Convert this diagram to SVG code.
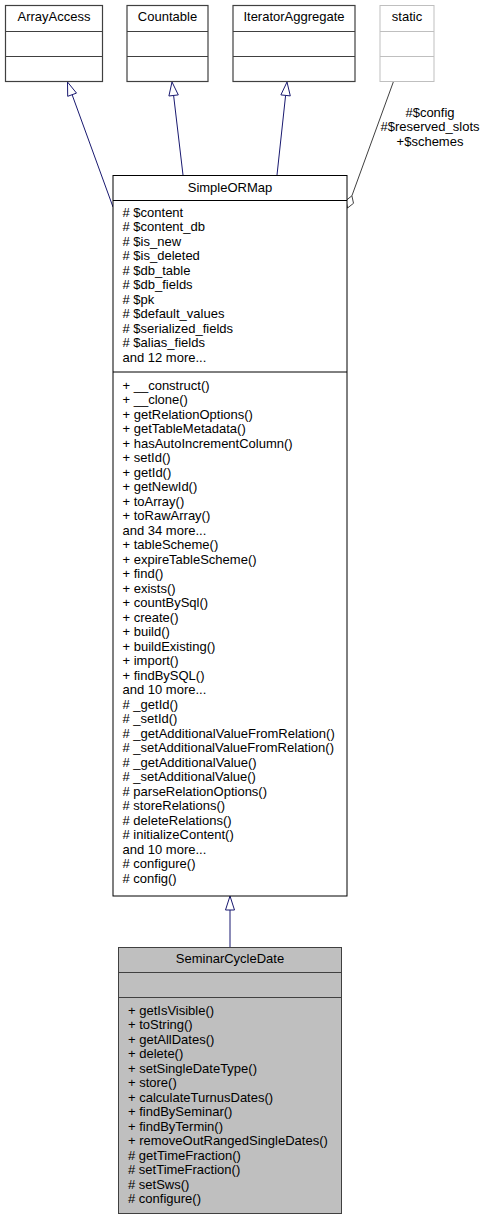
<svg xmlns="http://www.w3.org/2000/svg" width="486" height="1220" viewBox="0 0 486 1220">
<style>
text{font-family:"Liberation Sans",Arial,Helvetica,sans-serif;font-size:13px;fill:#000}
.c{text-anchor:middle}
.box{fill:#fff;stroke:#404040;stroke-width:1.2}
.main{fill:#fff;stroke:#000;stroke-width:1}
.ghost{fill:#fff;stroke:#bfbfbf;stroke-width:1}
.cur{fill:#bfbfbf;stroke:#404040;stroke-width:1}
.inh{fill:none;stroke:#191970;stroke-width:1}
.tri{fill:#fff;stroke:#191970;stroke-width:1}
.use{fill:none;stroke:#404040;stroke-width:1}
.dia{fill:#fff;stroke:#404040;stroke-width:1}
</style>
<rect width="486" height="1220" fill="#fff"/>
<g id="connectors">
<line class="inh" x1="72.1" y1="94.7" x2="113" y2="207"/>
<polygon class="tri" points="67.5,82 76.5,93.1 67.7,96.3"/>
<line class="inh" x1="173.6" y1="95.4" x2="183" y2="175"/>
<polygon class="tri" points="172,82 178.3,94.9 168.9,96"/>
<line class="inh" x1="285.6" y1="95.4" x2="277" y2="175"/>
<polygon class="tri" points="287,82 290.3,95.9 280.9,94.9"/>
<line class="use" x1="393.3" y1="82" x2="351.9" y2="195.8"/>
<polygon class="dia" points="347.5,208 345.9,200.5 351.9,195.8 353.5,203.3"/>
<text class="c" x="430" y="116.5">#$config</text>
<text class="c" x="430" y="131">#$reserved_slots</text>
<text class="c" x="430" y="145.5">+$schemes</text>
<line class="inh" x1="230" y1="910" x2="230" y2="947"/>
<polygon class="tri" points="230,896 234.5,910 225.5,910"/>
</g>
<g id="ArrayAccess">
<rect class="box" x="5.5" y="5.5" width="97" height="76"/>
<line class="box" x1="5.5" y1="31.5" x2="102.5" y2="31.5"/>
<line class="box" x1="5.5" y1="56.5" x2="102.5" y2="56.5"/>
<text class="c" x="54" y="21">ArrayAccess</text>
</g>
<g id="Countable">
<rect class="box" x="127" y="5.5" width="81" height="76"/>
<line class="box" x1="127" y1="31.5" x2="208" y2="31.5"/>
<line class="box" x1="127" y1="56.5" x2="208" y2="56.5"/>
<text class="c" x="167.5" y="21">Countable</text>
</g>
<g id="IteratorAggregate">
<rect class="box" x="233" y="5.5" width="122" height="76"/>
<line class="box" x1="233" y1="31.5" x2="355" y2="31.5"/>
<line class="box" x1="233" y1="56.5" x2="355" y2="56.5"/>
<text class="c" x="294" y="21">IteratorAggregate</text>
</g>
<g id="static">
<rect class="ghost" x="380" y="5.5" width="54" height="76"/>
<line class="ghost" x1="380" y1="31.5" x2="434" y2="31.5"/>
<line class="ghost" x1="380" y1="56.5" x2="434" y2="56.5"/>
<text class="c" x="407" y="21">static</text>
</g>
<g id="SimpleORMap">
<rect class="main" x="113" y="175.5" width="234" height="720.5"/>
<line class="main" x1="113" y1="200.5" x2="347" y2="200.5"/>
<line class="main" x1="113" y1="372" x2="347" y2="372"/>
<text class="c" x="230" y="191.5">SimpleORMap</text>
<text x="122.5" y="216.5"># $content</text>
<text x="122.5" y="231"># $content_db</text>
<text x="122.5" y="245.5"># $is_new</text>
<text x="122.5" y="260"># $is_deleted</text>
<text x="122.5" y="274.5"># $db_table</text>
<text x="122.5" y="289"># $db_fields</text>
<text x="122.5" y="303.5"># $pk</text>
<text x="122.5" y="318"># $default_values</text>
<text x="122.5" y="332.5"># $serialized_fields</text>
<text x="122.5" y="347"># $alias_fields</text>
<text x="122.5" y="361.5">and 12 more...</text>
<text x="122.5" y="389.5">+ __construct()</text>
<text x="122.5" y="404">+ __clone()</text>
<text x="122.5" y="418.5">+ getRelationOptions()</text>
<text x="122.5" y="433">+ getTableMetadata()</text>
<text x="122.5" y="447.5">+ hasAutoIncrementColumn()</text>
<text x="122.5" y="462">+ setId()</text>
<text x="122.5" y="476.5">+ getId()</text>
<text x="122.5" y="491">+ getNewId()</text>
<text x="122.5" y="505.5">+ toArray()</text>
<text x="122.5" y="520">+ toRawArray()</text>
<text x="122.5" y="534.5">and 34 more...</text>
<text x="122.5" y="549">+ tableScheme()</text>
<text x="122.5" y="563.5">+ expireTableScheme()</text>
<text x="122.5" y="578">+ find()</text>
<text x="122.5" y="592.5">+ exists()</text>
<text x="122.5" y="607">+ countBySql()</text>
<text x="122.5" y="621.5">+ create()</text>
<text x="122.5" y="636">+ build()</text>
<text x="122.5" y="650.5">+ buildExisting()</text>
<text x="122.5" y="665">+ import()</text>
<text x="122.5" y="679.5">+ findBySQL()</text>
<text x="122.5" y="694">and 10 more...</text>
<text x="122.5" y="708.5"># _getId()</text>
<text x="122.5" y="723"># _setId()</text>
<text x="122.5" y="737.5"># _getAdditionalValueFromRelation()</text>
<text x="122.5" y="752"># _setAdditionalValueFromRelation()</text>
<text x="122.5" y="766.5"># _getAdditionalValue()</text>
<text x="122.5" y="781"># _setAdditionalValue()</text>
<text x="122.5" y="795.5"># parseRelationOptions()</text>
<text x="122.5" y="810"># storeRelations()</text>
<text x="122.5" y="824.5"># deleteRelations()</text>
<text x="122.5" y="839"># initializeContent()</text>
<text x="122.5" y="853.5">and 10 more...</text>
<text x="122.5" y="868"># configure()</text>
<text x="122.5" y="882.5"># config()</text>
</g>
<g id="SeminarCycleDate">
<rect class="cur" x="118.5" y="947.5" width="223" height="266"/>
<line class="cur" x1="118.5" y1="972.5" x2="341.5" y2="972.5"/>
<line class="cur" x1="118.5" y1="997.5" x2="341.5" y2="997.5"/>
<text class="c" x="230" y="963">SeminarCycleDate</text>
<text x="128" y="1014.5">+ getIsVisible()</text>
<text x="128" y="1029">+ toString()</text>
<text x="128" y="1043.5">+ getAllDates()</text>
<text x="128" y="1058">+ delete()</text>
<text x="128" y="1072.5">+ setSingleDateType()</text>
<text x="128" y="1087">+ store()</text>
<text x="128" y="1101.5">+ calculateTurnusDates()</text>
<text x="128" y="1116">+ findBySeminar()</text>
<text x="128" y="1130.5">+ findByTermin()</text>
<text x="128" y="1145">+ removeOutRangedSingleDates()</text>
<text x="128" y="1159.5"># getTimeFraction()</text>
<text x="128" y="1174"># setTimeFraction()</text>
<text x="128" y="1188.5"># setSws()</text>
<text x="128" y="1203"># configure()</text>
</g>
</svg>
